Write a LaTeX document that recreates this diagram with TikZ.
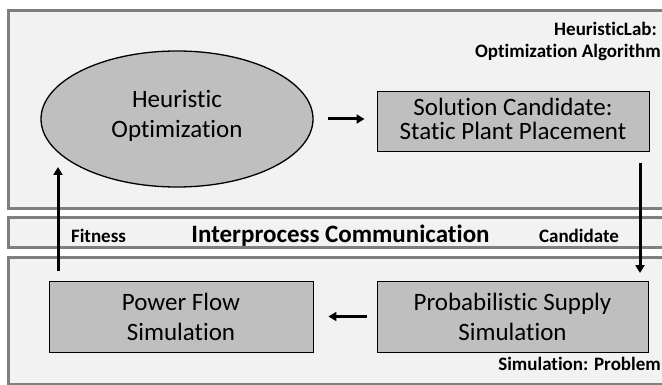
\documentclass[tikz,border=0pt]{standalone}
\usepackage{fontspec}
\setmainfont[Ligatures={NoCommon,NoContextual}]{Carlito}
\usetikzlibrary{arrows.meta,shapes.geometric}
\definecolor{panelfill}{HTML}{F2F2F2}
\definecolor{panelborder}{HTML}{7F7F7F}
\definecolor{boxfill}{HTML}{BFBFBF}
\tikzset{
  panel/.style={draw=panelborder, line width=3pt, fill=panelfill, rectangle, inner sep=0pt},
  procbox/.style={draw=black, line width=0.9pt, fill=boxfill, rectangle, inner sep=0pt},
  procell/.style={draw=black, line width=1.3pt, fill=boxfill, ellipse, inner sep=0pt},
  proctext/.style={align=center, inner sep=0pt, font=\fontsize{25}{30}\selectfont},
  lab/.style={font=\bfseries\fontsize{19}{22}\selectfont, inner sep=0pt},
  arr/.style={line width=3pt, -{Triangle[length=8pt,width=9pt]}}
}
\begin{document}
\begin{tikzpicture}[x=1pt,y=-1pt]
\useasboundingbox (0,0) rectangle (662,385);
% panels
\node[panel, minimum width=672pt, minimum height=198pt] (toppanel) at (344,110) {};
\node[panel, minimum width=672pt, minimum height=30pt] (midband) at (344,233) {};
\node[panel, minimum width=672pt, minimum height=127pt] (botpanel) at (344,320.5) {};
% labels
\node[lab, anchor=east] (hlab) at (657,29) {HeuristicLab:};
\node[lab, anchor=east] (oalg) at (661,52.5) {Optimization Algorithm};
\node[lab] (fit) at (98.5,236) {Fitness};
\node[font=\bfseries\fontsize{25}{30}\selectfont, inner sep=0pt] (ipc) at (340.5,236) {Interprocess Communication};
\node[lab] (cand) at (579,236) {Candidate};
\node[lab, anchor=east] (simp) at (661,364) {Simulation: Problem};
% processes
\node[procell, minimum width=272pt, minimum height=136pt] (ho) at (177,119) {};
\node[proctext] (hotext) at (177,116) {Heuristic\\Optimization};
\node[procbox, minimum width=272pt, minimum height=60pt] (sc) at (513,121) {};
\node[proctext, font=\fontsize{25}{24}\selectfont] (sctext) at (513,119) {Solution Candidate:\\Static Plant Placement};
\node[procbox, minimum width=264pt, minimum height=71pt] (pf) at (181,316.5) {};
\node[proctext] (pftext) at (181,317) {Power Flow\\Simulation};
\node[procbox, minimum width=271pt, minimum height=71pt] (ps) at (512.5,316.5) {};
\node[proctext] (pstext) at (512.5,317) {Probabilistic Supply\\Simulation};
% connectors
\draw[arr, shorten <=14pt, shorten >=12pt] (ho.east) -- (sc.west |- ho.east);
\draw[arr, shorten <=10pt, shorten >=15pt] (ps.west) -- (pf.east);
\coordinate (cs) at (640,163);
\coordinate (ce) at (640,273);
\draw[arr] (cs) -- (ce);
\coordinate (fs) at (58,271);
\coordinate (fe) at (58,167);
\draw[arr] (fs) -- (fe);
\end{tikzpicture}
\end{document}
